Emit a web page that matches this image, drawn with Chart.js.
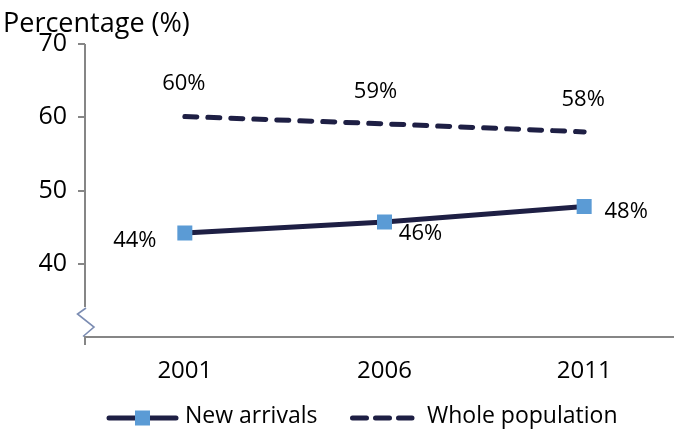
<!DOCTYPE html>
<html>
<head>
<meta charset="utf-8">
<script src="https://cdn.jsdelivr.net/npm/chart.js@4/dist/chart.umd.min.js"></script>
<style>
  html, body { margin: 0; padding: 0; background: #ffffff; overflow: hidden; }
  #wrap { width: 684px; height: 430px; overflow: hidden; }
  canvas { display: block; }
</style>
</head>
<body>
<div id="wrap"><canvas id="chart" width="684" height="430"></canvas></div>
<script>
// Share of people (%) over census years
const years = ['2001', '2006', '2011'];
const newArrivals = [44.2, 45.7, 47.8];
const wholePopulation = [60.1, 59.1, 58.0];
const yTickValues = [40, 50, 60, 70];
const seriesNames = ['New arrivals', 'Whole population'];
const axisTitle = 'Percentage (%)';

const FONT = "'Open Sans', 'Noto Sans', sans-serif";
const NAVY = '#1e1f44';
const MARKER = '#5b9bd5';
const AXIS = '#868686';

// Value labels: offset of each label from its point, per dataset
const labelOffsets = [
  [[-50, 8], [36, 12], [42, 5]],
  [[-1, -33], [-9, -32], [-1, -32]]
];

const valueLabels = {
  id: 'valueLabels',
  afterDatasetsDraw(chart) {
    const ctx = chart.ctx;
    ctx.save();
    ctx.font = '22px ' + FONT;
    ctx.fillStyle = '#000';
    ctx.textAlign = 'center';
    ctx.textBaseline = 'middle';
    chart.data.datasets.forEach((ds, di) => {
      chart.getDatasetMeta(di).data.forEach((pt, i) => {
        const [dx, dy] = labelOffsets[di][i];
        ctx.fillText(Math.round(ds.data[i]) + '%', pt.x + dx, pt.y + dy);
      });
    });
    ctx.restore();
  }
};

// Y axis line with a break marker near the bottom, plus title and legend
const decorations = {
  id: 'decorations',
  afterDraw(chart) {
    const ctx = chart.ctx;
    const a = chart.chartArea;
    const x = a.left;
    const breakTop = a.bottom - 30;
    ctx.save();
    // axis line down to the break
    ctx.strokeStyle = AXIS;
    ctx.lineWidth = 2;
    ctx.beginPath();
    ctx.moveTo(x, a.top);
    ctx.lineTo(x, breakTop);
    ctx.stroke();
    // small tick under the origin
    ctx.beginPath();
    ctx.moveTo(x, a.bottom);
    ctx.lineTo(x, a.bottom + 8);
    ctx.stroke();
    // zigzag break
    ctx.strokeStyle = '#7b8cb2';
    ctx.lineWidth = 1.6;
    ctx.beginPath();
    ctx.moveTo(x + 1, breakTop + 1);
    ctx.lineTo(x - 7.5, breakTop + 7);
    ctx.lineTo(x + 9, breakTop + 20);
    ctx.lineTo(x - 2, breakTop + 29.5);
    ctx.stroke();

    // axis title
    ctx.fillStyle = '#000';
    ctx.font = '27px ' + FONT;
    ctx.textAlign = 'left';
    ctx.textBaseline = 'middle';
    ctx.fillText(axisTitle, 3, 24);

    // legend
    const ly = 418;
    ctx.lineCap = 'round';
    ctx.strokeStyle = NAVY;
    ctx.lineWidth = 5;
    ctx.beginPath();
    ctx.moveTo(109, ly);
    ctx.lineTo(176, ly);
    ctx.stroke();
    ctx.fillStyle = MARKER;
    ctx.fillRect(135, ly - 7.5, 15, 15);

    ctx.setLineDash([14, 9]);
    ctx.beginPath();
    ctx.moveTo(352.5, ly);
    ctx.lineTo(412, ly);
    ctx.stroke();
    ctx.setLineDash([]);

    ctx.fillStyle = '#000';
    ctx.font = '23px ' + FONT;
    ctx.textBaseline = 'middle';
    ctx.fillText(seriesNames[0], 185, ly - 2);
    ctx.fillText(seriesNames[1], 427, ly - 2);
    ctx.restore();
  }
};

new Chart(document.getElementById('chart'), {
  type: 'line',
  data: {
    labels: years,
    datasets: [
      {
        label: seriesNames[0],
        data: newArrivals,
        borderColor: NAVY,
        borderWidth: 5,
        pointStyle: 'rect',
        pointRadius: 10.6,
        pointBackgroundColor: MARKER,
        pointBorderColor: MARKER,
        pointBorderWidth: 0,
        pointHoverRadius: 10.6,
        tension: 0
      },
      {
        label: seriesNames[1],
        data: wholePopulation,
        borderColor: NAVY,
        borderWidth: 5,
        borderDash: [12, 11],
        borderCapStyle: 'round',
        pointRadius: 0,
        pointHoverRadius: 0,
        tension: 0
      }
    ]
  },
  options: {
    responsive: false,
    animation: false,
    events: [],
    // the plot area runs to the canvas edge, just past the visible window
    layout: { autoPadding: false, padding: { top: 44, right: 0, bottom: 0, left: 0 } },
    plugins: {
      legend: { display: false },
      tooltip: { enabled: false },
      title: { display: false }
    },
    scales: {
      x: {
        type: 'category',
        offset: true,
        grid: { display: false, drawTicks: false },
        border: { display: true, color: AXIS, width: 2 },
        ticks: {
          color: '#000',
          font: { family: FONT, size: 24 },
          padding: 20,
          maxRotation: 0
        },
        afterFit(scale) { scale.height = 93; }
      },
      y: {
        min: 30,
        max: 70,
        grid: {
          drawOnChartArea: false,
          drawTicks: true,
          tickLength: 7,
          color: AXIS,
          lineWidth: 2
        },
        border: { display: false },
        ticks: {
          color: '#000',
          font: { family: FONT, size: 25 },
          padding: 11
        },
        afterBuildTicks(scale) {
          scale.ticks = yTickValues.map(v => ({ value: v }));
        },
        afterFit(scale) { scale.width = 85; }
      }
    }
  },
  plugins: [valueLabels, decorations]
});
</script>
</body>
</html>
